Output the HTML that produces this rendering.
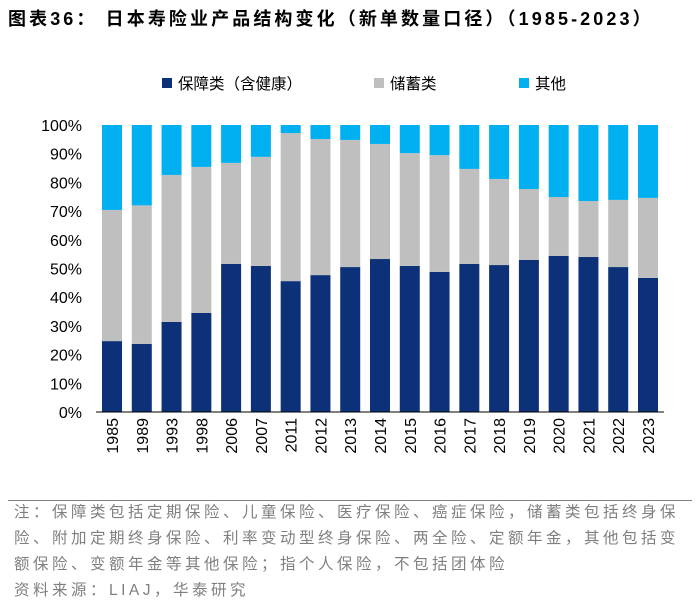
<!DOCTYPE html>
<html><head><meta charset="utf-8"><style>
body{margin:0;background:#fff;width:700px;height:609px;overflow:hidden;font-family:"Liberation Sans","Noto Sans CJK SC",sans-serif}
.t{position:absolute;left:8px;top:5px;font-size:18px;letter-spacing:3.1px;font-weight:bold;color:#000;white-space:nowrap}
.n{position:absolute;left:14px;font-size:15.5px;letter-spacing:3.5px;color:#7f7f7f;white-space:nowrap}
</style></head><body>
<div class="t">图表36：  日本寿险业产品结构变化（新单数量口径）（1985-2023）</div>
<svg id="c" width="700" height="500" style="position:absolute;left:0;top:0"></svg>
<div style="position:absolute;left:8px;top:500px;width:684px;border-top:1px solid #7f7f7f"></div>
<div class="n" style="top:500px">注：保障类包括定期保险、儿童保险、医疗保险、癌症保险，储蓄类包括终身保</div>
<div class="n" style="top:526px">险、附加定期终身保险、利率变动型终身保险、两全险、定额年金，其他包括变</div>
<div class="n" style="top:552px">额保险、变额年金等其他保险；指个人保险，不包括团体险</div>
<div class="n" style="top:578px">资料来源：LIAJ，华泰研究</div>
<script>
const years=["1985","1989","1993","1998","2006","2007","2011","2012","2013","2014","2015","2016","2017","2018","2019","2020","2021","2022","2023"];
const protection=[24.7,23.7,31.4,34.5,51.6,50.9,45.6,47.7,50.5,53.3,50.9,48.8,51.6,51.2,53.0,54.4,54.0,50.5,46.7];
const savings=[45.7,48.3,51.2,50.9,35.2,38.0,51.6,47.4,44.3,40.1,39.3,40.7,33.1,30.0,24.7,20.5,19.5,23.4,27.9];
const other=years.map((_,i)=>100-protection[i]-savings[i]);
const yTicks=[0,10,20,30,40,50,60,70,80,90,100];
const seriesNames=["保障类（含健康）","储蓄类","其他"];
const colors=["#0c3178","#bfbfbf","#00b0f0"];
const svg=document.getElementById('c');
const NS='http://www.w3.org/2000/svg';
const y0=412,y1=125,xStart=112,xEnd=648;
const yS=v=>y0-(y0-y1)*v/100;
const xS=i=>xStart+(xEnd-xStart)*i/(years.length-1);
function mk(t,a,txt){const e=document.createElementNS(NS,t);for(const k in a)e.setAttribute(k,a[k]);if(txt!==undefined)e.textContent=txt;svg.appendChild(e);return e;}
yTicks.forEach(v=>{const e=mk('text',{x:82,y:yS(v)+6,'text-anchor':'end','font-size':'16','fill':'#000'},v+'%');

});
const series=[protection,savings,other];
years.forEach((yr,i)=>{let acc=0;series.forEach((s,k)=>{const r=mk('rect',{x:xS(i)-10,y:yS(acc+s[i]),width:20,height:yS(acc)-yS(acc+s[i]),fill:colors[k]});


acc+=s[i];});
const t=mk('text',{x:0,y:0,'text-anchor':'end','font-size':'16','fill':'#000',transform:`translate(${xS(i)+6},418) rotate(-90)`},yr);

});
const ax=mk('line',{x1:96,x2:664,y1:y0,y2:y0,stroke:'#000','stroke-width':1});


const lx=[162,374,519];
seriesNames.forEach((n,k)=>{const r=mk('rect',{x:lx[k],y:78,width:10,height:10,fill:colors[k]});


const t=mk('text',{x:lx[k]+16,y:89,'font-size':'15.5','fill':'#000'},n);

});
</script>
</body></html>
